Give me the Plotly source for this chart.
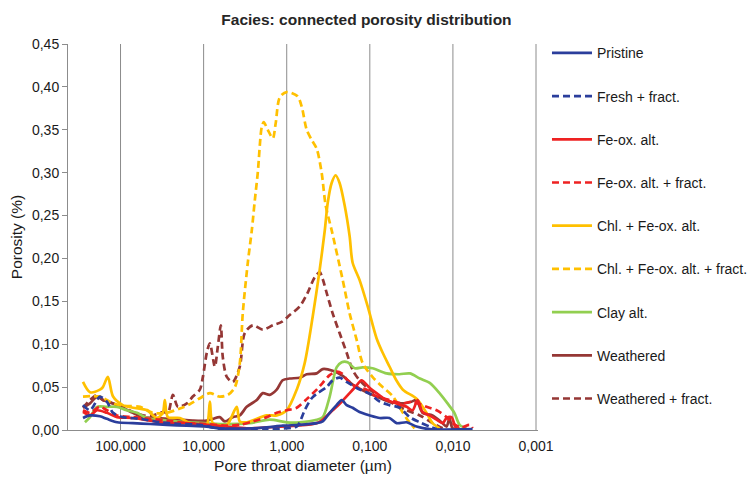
import plotly.graph_objects as go
import math

# ---------------- data (pore throat diameter in µm, porosity) ----------------
pristine_d = [283, 233, 177, 146, 110, 71, 44, 27.7, 15.9, 9.2, 6.4, 2.56, 1.74, 1.12, 0.698, 0.436, 0.369, 0.304, 0.251, 0.218, 0.19, 0.161, 0.133, 0.100, 0.076, 0.058, 0.0476, 0.036, 0.0274, 0.0191, 0.0058]
pristine_v = [0.014, 0.017, 0.016, 0.013, 0.009, 0.008, 0.007, 0.006, 0.005, 0.004, 0.002, 0.002, 0.003, 0.005, 0.006, 0.008, 0.010, 0.020, 0.029, 0.035, 0.029, 0.026, 0.021, 0.017, 0.014, 0.014, 0.008, 0.009, 0.004, 0.001, 0.001]

fresh_fr_d = [283, 233, 192, 177, 146, 123, 94, 58, 33.6, 19.3, 11.1, 6.9, 4.5, 1.74, 0.758, 0.698, 0.608, 0.501, 0.424, 0.331, 0.28, 0.231, 0.19, 0.144, 0.100, 0.076, 0.058, 0.044, 0.033, 0.025, 0.019, 0.0157]
fresh_fr_v = [0.029, 0.023, 0.035, 0.039, 0.033, 0.020, 0.015, 0.013, 0.009, 0.007, 0.006, 0.002, 0.001, 0.001, 0.004, 0.009, 0.023, 0.037, 0.043, 0.050, 0.058, 0.061, 0.056, 0.049, 0.042, 0.033, 0.029, 0.026, 0.015, 0.009, 0.004, 0.001]

feox_d = [283, 233, 192, 146, 110, 71, 44, 27.7, 15.9, 9.2, 5.26, 3.03, 1.74, 0.758, 0.436, 0.369, 0.28, 0.218, 0.175, 0.144, 0.126, 0.100, 0.083, 0.063, 0.0476, 0.036, 0.0306, 0.0266, 0.0232, 0.0191, 0.0157, 0.0133, 0.0119, 0.0104, 0.0091, 0.0069]
feox_v = [0.021, 0.017, 0.023, 0.020, 0.015, 0.014, 0.011, 0.008, 0.008, 0.006, 0.004, 0.002, 0.003, 0.005, 0.008, 0.012, 0.023, 0.033, 0.043, 0.052, 0.058, 0.049, 0.043, 0.035, 0.031, 0.027, 0.023, 0.035, 0.021, 0.017, 0.012, 0.008, 0.014, 0.015, 0.002, 0.001]

feox_fr_d = [283, 233, 177, 146, 110, 71, 44, 27.7, 15.9, 9.2, 5.26, 3.67, 2.56, 1.74, 1.32, 1.0, 0.758, 0.56, 0.436, 0.369, 0.304, 0.251, 0.218, 0.185, 0.144, 0.109, 0.083, 0.058, 0.040, 0.0306, 0.0208, 0.0157, 0.0119, 0.0101, 0.0079, 0.0063, 0.0058]
feox_fr_v = [0.023, 0.020, 0.027, 0.023, 0.017, 0.015, 0.013, 0.011, 0.008, 0.007, 0.005, 0.006, 0.010, 0.015, 0.020, 0.023, 0.026, 0.037, 0.047, 0.055, 0.064, 0.068, 0.066, 0.058, 0.050, 0.047, 0.039, 0.035, 0.031, 0.033, 0.027, 0.023, 0.015, 0.008, 0.003, 0.006, 0.002]

chl_d = [283, 233, 177, 163, 142, 123, 94, 71, 48, 36.5, 31, 29.3, 26.9, 19.3, 14.7, 11.1, 9.2, 8.4, 7.75, 5.26, 4.0, 3.67, 3.03, 1.74, 1.32, 1.0, 0.758, 0.608, 0.487, 0.401, 0.349, 0.321, 0.288, 0.258, 0.231, 0.201, 0.175, 0.161, 0.133, 0.106, 0.083, 0.070, 0.058, 0.048, 0.040, 0.027, 0.0208, 0.0176, 0.0145]
chl_v = [0.056, 0.044, 0.047, 0.050, 0.062, 0.039, 0.029, 0.026, 0.023, 0.014, 0.020, 0.035, 0.015, 0.014, 0.008, 0.005, 0.005, 0.033, 0.008, 0.006, 0.027, 0.010, 0.009, 0.017, 0.017, 0.023, 0.047, 0.078, 0.132, 0.187, 0.232, 0.265, 0.288, 0.297, 0.288, 0.262, 0.226, 0.195, 0.175, 0.144, 0.107, 0.090, 0.074, 0.058, 0.047, 0.036, 0.020, 0.008, 0.002]

chl_fr_d = [283, 177, 123, 84, 58, 41, 28, 19.3, 14.7, 11.1, 8.4, 6.4, 5.1, 4.2, 3.67, 3.38, 2.94, 2.63, 2.42, 2.23, 2.0, 1.89, 1.69, 1.47, 1.36, 1.21, 1.0, 0.74, 0.66, 0.575, 0.50, 0.436, 0.38, 0.34, 0.288, 0.212, 0.175, 0.144, 0.122, 0.093, 0.070, 0.0525, 0.040, 0.034, 0.029]
chl_fr_v = [0.039, 0.039, 0.031, 0.028, 0.027, 0.020, 0.020, 0.025, 0.030, 0.037, 0.043, 0.039, 0.041, 0.050, 0.078, 0.136, 0.195, 0.233, 0.268, 0.300, 0.353, 0.359, 0.350, 0.340, 0.357, 0.388, 0.394, 0.389, 0.377, 0.350, 0.338, 0.328, 0.300, 0.262, 0.233, 0.175, 0.136, 0.105, 0.078, 0.062, 0.050, 0.039, 0.020, 0.010, 0.002]

clay_d = [268, 233, 192, 146, 110, 84, 63.5, 48, 27.7, 14.7, 6.4, 2.8, 1.6, 1.0, 0.698, 0.436, 0.369, 0.304, 0.251, 0.218, 0.185, 0.152, 0.122, 0.093, 0.063, 0.044, 0.033, 0.025, 0.019, 0.0145, 0.0116, 0.0096, 0.0083, 0.0069]
clay_v = [0.009, 0.015, 0.027, 0.027, 0.027, 0.023, 0.020, 0.014, 0.011, 0.009, 0.007, 0.008, 0.012, 0.009, 0.009, 0.012, 0.015, 0.039, 0.073, 0.079, 0.079, 0.072, 0.073, 0.072, 0.066, 0.065, 0.066, 0.060, 0.055, 0.043, 0.031, 0.020, 0.006, 0.002]

weath_d = [283, 233, 192, 163, 123, 94, 71, 54, 36.5, 19.3, 13.5, 9.2, 7.75, 6.4, 5.56, 4.46, 3.67, 3.03, 2.29, 1.94, 1.6, 1.32, 1.12, 0.92, 0.698, 0.575, 0.436, 0.369, 0.28, 0.212, 0.161, 0.109, 0.083, 0.058, 0.040, 0.0315, 0.0274, 0.0232, 0.0176, 0.0137, 0.0119, 0.011, 0.0101, 0.0083]
weath_v = [0.026, 0.031, 0.039, 0.035, 0.031, 0.026, 0.020, 0.015, 0.014, 0.012, 0.011, 0.011, 0.013, 0.015, 0.010, 0.015, 0.017, 0.027, 0.035, 0.043, 0.041, 0.047, 0.058, 0.060, 0.061, 0.065, 0.066, 0.071, 0.069, 0.063, 0.053, 0.044, 0.039, 0.033, 0.031, 0.033, 0.035, 0.020, 0.017, 0.009, 0.004, 0.014, 0.002, 0.002]

weath_fr_d = [283, 233, 192, 163, 123, 94, 71, 54, 41, 31, 26.9, 23.4, 20.4, 15.9, 13.5, 11.1, 10.2, 9.16, 8.42, 7.33, 6.75, 6.21, 5.88, 5.26, 4.46, 3.67, 3.2, 2.56, 1.94, 1.47, 1.15, 0.92, 0.698, 0.56, 0.461, 0.401, 0.369, 0.331, 0.28, 0.231, 0.19, 0.161, 0.133, 0.100, 0.076, 0.053, 0.036, 0.025, 0.0176, 0.0133]
weath_fr_v = [0.026, 0.035, 0.041, 0.035, 0.031, 0.027, 0.021, 0.017, 0.017, 0.021, 0.020, 0.041, 0.027, 0.031, 0.039, 0.047, 0.062, 0.090, 0.101, 0.074, 0.097, 0.122, 0.085, 0.062, 0.056, 0.074, 0.113, 0.122, 0.117, 0.122, 0.126, 0.134, 0.144, 0.160, 0.178, 0.184, 0.176, 0.160, 0.136, 0.113, 0.090, 0.070, 0.058, 0.047, 0.039, 0.031, 0.023, 0.017, 0.008, 0.002]

names = ["Pristine", "Fresh + fract.", "Fe-ox. alt.", "Fe-ox. alt. + fract.",
         "Chl. + Fe-ox. alt.", "Chl. + Fe-ox. alt. + fract.", "Clay alt.",
         "Weathered", "Weathered + fract."]
xs = [pristine_d, fresh_fr_d, feox_d, feox_fr_d, chl_d, chl_fr_d, clay_d, weath_d, weath_fr_d]
ys = [pristine_v, fresh_fr_v, feox_v, feox_fr_v, chl_v, chl_fr_v, clay_v, weath_v, weath_fr_v]

x_ticks = [100, 10, 1, 0.1, 0.01, 0.001]
y_ticks = [0, 0.05, 0.10, 0.15, 0.20, 0.25, 0.30, 0.35, 0.40, 0.45]

# ---------------- styles ----------------
colors = ["#2B3E9C", "#2B3E9C", "#EE2222", "#EE2222", "#FFC000", "#FFC000",
          "#92CF50", "#953735", "#953735"]
dashes = [None, "7px,4px", None, "7px,4px", None, "7px,4px", None, None, "7px,4px"]
grid_color = "#8c8c8c"

fig = go.Figure()
order = list(range(len(names)))[::-1]
for i in order:
    fig.add_trace(go.Scatter(
        x=xs[i], y=ys[i], name=names[i], mode="lines",
        line=dict(color=colors[i], width=2.7, shape="spline", smoothing=0.8,
                  dash=dashes[i] if dashes[i] else "solid"),
        legendgroup="g%d" % i, legendrank=i + 1,
    ))

# vertical gridlines at each decade tick (drawn as shapes so the edge one shows too)
for xv in x_ticks:
    fig.add_shape(type="line", xref="x", yref="paper", x0=xv, x1=xv, y0=0, y1=1,
                  line=dict(color=grid_color, width=1), layer="below")

font_main = "Liberation Sans, Arial, sans-serif"
fig.update_layout(
    width=751, height=477,
    margin=dict(l=68, r=213, t=44, b=47, autoexpand=False),
    paper_bgcolor="white", plot_bgcolor="white",
    separators=",.",
    font=dict(family=font_main, size=14, color="#1a1a1a"),
    title=dict(text="<b>Facies: connected porosity distribution</b>",
               x=0.488, xref="container", xanchor="center",
               y=0.958, yref="container", yanchor="middle",
               font=dict(size=15.5, color="#262626")),
    showlegend=True,
    legend=dict(x=1.0191, xanchor="left", xref="paper",
                y=0.529, yanchor="middle", yref="paper",
                tracegroupgap=22, itemwidth=40,
                font=dict(size=14, color="#1a1a1a"),
                bgcolor="rgba(0,0,0,0)"),
    xaxis=dict(type="log", range=[math.log10(428.7), -3.024],
               tickvals=x_ticks, tickformat=".3f", automargin=False,
               showgrid=False,
               showline=True, linecolor=grid_color, linewidth=1,
               ticks="outside", ticklen=3, tickcolor="rgba(0,0,0,0)",
               zeroline=False,
               title=dict(text="Pore throat diameter (µm)", standoff=7,
                          font=dict(size=15.5))),
    yaxis=dict(range=[0, 0.45], tickvals=y_ticks, tickformat=".2f",
               automargin=False,
               showgrid=False, zeroline=False,
               showline=True, linecolor=grid_color, linewidth=1,
               ticks="outside", ticklen=5, tickcolor=grid_color,
               title=dict(text="Porosity (%)", standoff=5,
                          font=dict(size=15.5))),
)

fig.write_html("out.html")
